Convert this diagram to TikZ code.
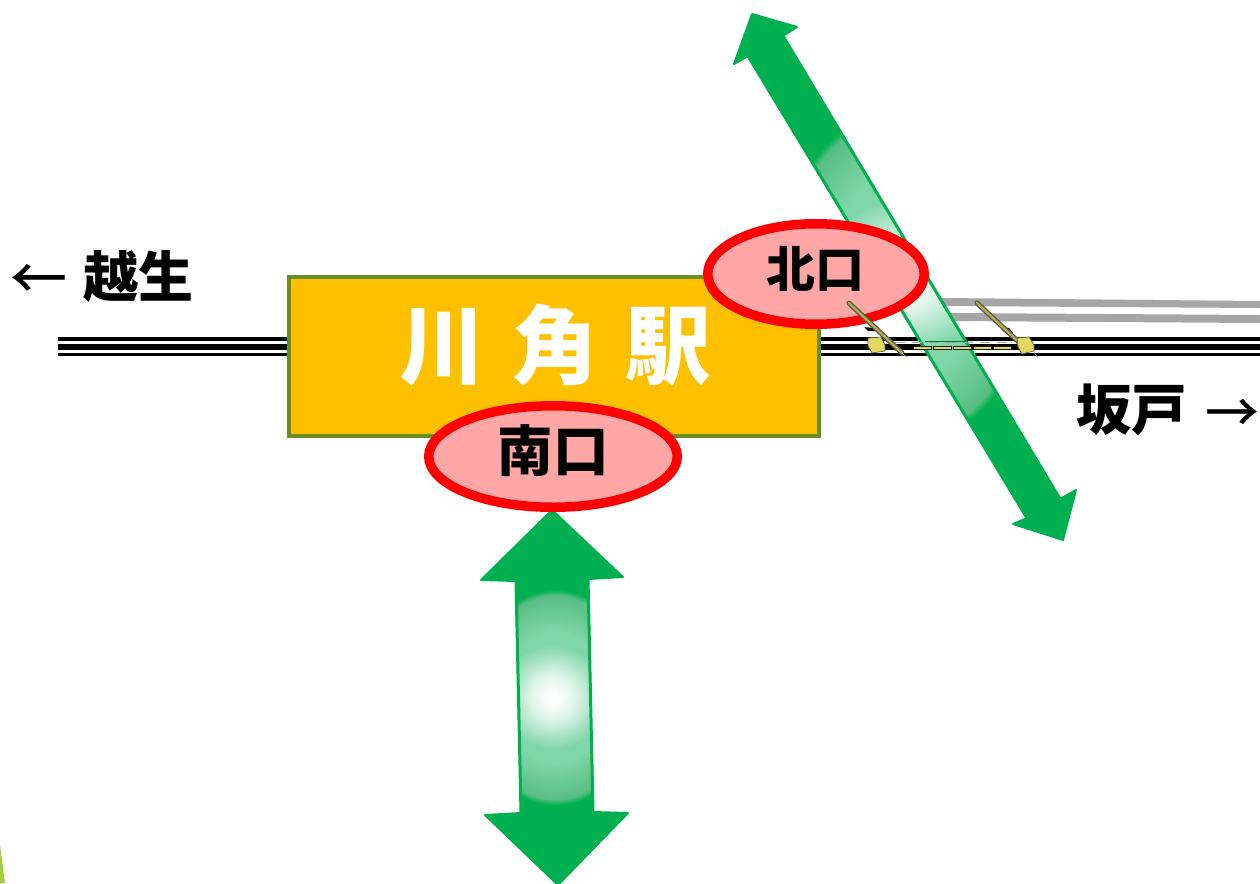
\documentclass[tikz,border=0pt]{standalone}
\usepackage{fontspec}
\setmainfont{Noto Sans CJK JP}
\newfontfamily\arrowfont{Noto Sans CJK JP Medium}
\usetikzlibrary{shapes.geometric}
\definecolor{arrowgreen}{HTML}{00B050}
\definecolor{arrowmid}{HTML}{80D6A8}
\definecolor{arrowout}{HTML}{58BE84}
\definecolor{arrowinner}{HTML}{DDF4E8}
\definecolor{stationfill}{HTML}{FFC000}
\definecolor{stationline}{HTML}{6B8E23}
\definecolor{exitfill}{HTML}{FFA6A6}
\definecolor{railgrey}{HTML}{A6A6A6}
\definecolor{polefill}{HTML}{B3AC68}
\definecolor{poleline}{HTML}{5F5B30}
\definecolor{gateyellow}{HTML}{E0D860}
\definecolor{sliver}{HTML}{A4CF3C}
\pgfdeclareradialshading{glowbase}{\pgfpointorigin}{color(0bp)=(arrowmid);color(15bp)=(arrowmid);color(23.5bp)=(arrowout);color(24.8bp)=(arrowgreen);color(50bp)=(arrowgreen)}
\pgfdeclareradialshading{glowcore}{\pgfpointorigin}{color(0bp)=(white);color(2bp)=(white);color(11bp)=(arrowinner);color(25bp)=(arrowmid);color(50bp)=(arrowmid)}
\tikzset{
  exitoval/.style={ellipse,draw=red,line width=9.5pt,fill=exitfill,inner sep=0pt,text=black},
  pole/.style={line width=5pt,poleline,line cap=round},
  polecore/.style={line width=2.2pt,polefill,line cap=round},
  gatebox/.style={fill=gateyellow,draw=poleline,line width=.7pt,line join=round},
  plank/.style={fill=gateyellow,draw=black!70!poleline,line width=.7pt},
  arrowshape/.style={fill=arrowgreen,draw=arrowgreen,line width=2pt,line join=round},
  textlabel/.style={inner sep=0pt,text=black}
}
\begin{document}
\begin{tikzpicture}[x=1pt,y=-1pt]
\useasboundingbox (0,0) rectangle (1260,883);
\fill[white] (0,0) rectangle (1260,883);
% sliver
\fill[sliver] (0,845) -- (5,883) -- (0,883) -- cycle;
% grey rails
\fill[railgrey] (942,298) -- (1260,301) -- (1260,308) -- (942,306) -- cycle;
\fill[railgrey] (950,313) -- (1260,315) -- (1260,323) -- (950,321) -- cycle;
% tracks
\foreach \xa/\xb in {58/288,820/1260}{
  \fill[black] (\xa,337) rectangle (\xb,340.5);
  \fill[black] (\xa,343.5) rectangle (\xb,349.5);
  \fill[black] (\xa,353) rectangle (\xb,356);
}
% tilted arrow
\path[arrowshape] (752,14) -- (797,27) -- (783,36) -- (1060,499) -- (1076,490) -- (1063,540) -- (1013,524) -- (1027,518) -- (748,56) -- (734,64) -- cycle;
\begin{scope}
\clip (783,36) -- (1060,499) -- (1027,518) -- (748,56) -- cycle;
\begin{scope}[shift={(905,276)},rotate=30.6]
\shade[shading=glowbase] (-50,-167) rectangle (50,167);
\shade[shading=glowcore] (0,0) circle (78);
\end{scope}
\end{scope}
\draw[arrowgreen,line width=3pt] (783,36) -- (1060,499) (1027,518) -- (748,56);
% vertical arrow
\path[arrowshape] (552,510) -- (623,577) -- (588,579) -- (593,812) -- (628,813) -- (558,885) -- (485,815) -- (521,813) -- (516,581) -- (481,580) -- cycle;
\begin{scope}
\clip (516,581) -- (588,579) -- (593,812) -- (521,813) -- cycle;
\shade[shading=glowbase] (470,589) rectangle (640,806);
\shade[shading=glowcore] (553,697) circle (52);
\end{scope}
\draw[arrowgreen,line width=3pt] (516,581) -- (521,813) (588,579) -- (593,812);
% station
\node[draw=stationline,line width=4pt,fill=stationfill,minimum width=530pt,minimum height=159pt,inner sep=0pt] (station) at (554,356.5) {};
\node[inner sep=0pt,text=white,font=\bfseries\fontsize{85.5}{85.5}\selectfont] (name) at (555,345) {川\hspace{0.32em}角\hspace{0.32em}駅};
% exits
\node[exitoval,minimum width=216.5pt,minimum height=100.5pt] (north) at (816,274) {};
\node[exitoval,minimum width=248.5pt,minimum height=101.5pt] (south) at (553,456.5) {};
\node[textlabel,font=\bfseries\fontsize{49}{49}\selectfont] (northtext) at (815,269) {北口};
\node[textlabel,font=\bfseries\fontsize{55.5}{55.5}\selectfont] (southtext) at (553,451) {南口};
% place labels
\node[textlabel,font=\arrowfont\fontsize{57}{57}\selectfont] (westarrow) at (38.5,282) {←};
\node[textlabel,font=\bfseries\fontsize{55}{55}\selectfont,anchor=east] (west) at (194,277) {越生};
\node[textlabel,font=\bfseries\fontsize{55.5}{55.5}\selectfont,anchor=west] (east) at (1076,410) {坂戸};
\node[textlabel,font=\arrowfont\fontsize{54}{54}\selectfont] (eastarrow) at (1232.5,416) {→};
% crossing
\fill[black] (864,327) -- (874,328) -- (878,331) -- (868,331) -- cycle;
\fill[black] (1000,327) -- (1009,328) -- (1013,333) -- (1004,332) -- cycle;
\fill[arrowgreen!70!black] (925,340.5) rectangle (968,342);
\foreach \x in {895,912,...,1010}{ \fill[railgrey] (\x,341.8) rectangle ++(10,1.6); }
\foreach \x in {913,933,953,973,993}{ \path[plank] (\x,346.5) rectangle ++(18,3); }
\path[gatebox] (868,338) -- (881,337) -- (885,345) -- (885,351) -- (872,353) -- (868,346) -- cycle;
\draw[pole] (849,303) -- (902,353);
\draw[polecore] (849,303) -- (902,353);
\draw[pole] (977,303) -- (1024,347);
\draw[polecore] (977,303) -- (1024,347);
\path[gatebox] (1017,338) -- (1029,337) -- (1034,345) -- (1034,351) -- (1022,354) -- (1018,347) -- cycle;
\draw[railgrey,line width=.6pt] (903,354) -- (908,358) (1034,352) -- (1038,358);
\end{tikzpicture}
\end{document}
